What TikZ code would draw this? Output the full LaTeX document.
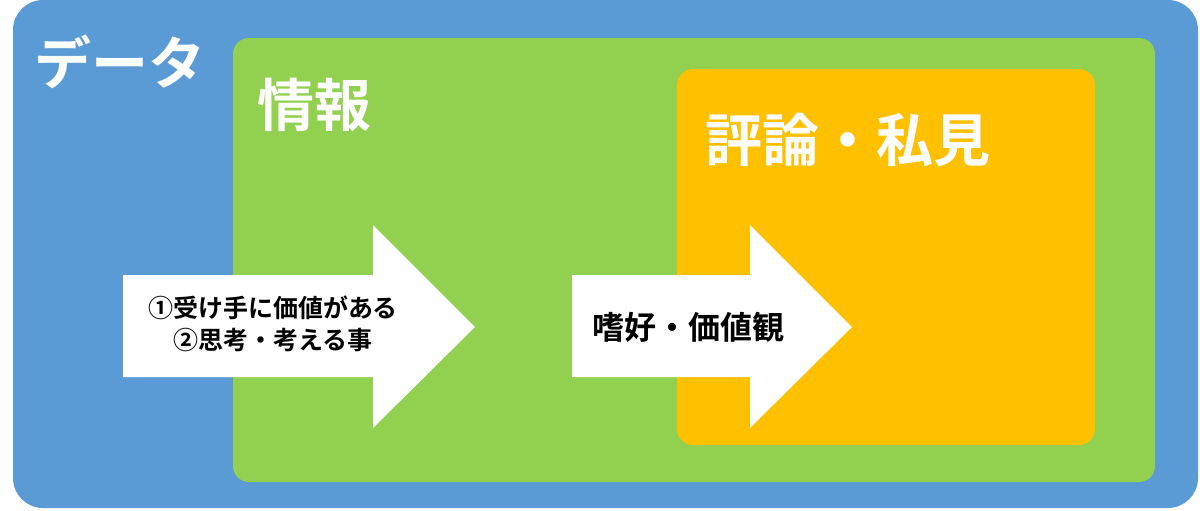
\documentclass[tikz,border=0pt]{standalone}
\usepackage{fontspec}
\newfontfamily\jpfont{Noto Sans CJK JP}[BoldFont={Noto Sans CJK JP Bold}]
\usetikzlibrary{positioning}
\definecolor{dataBlue}{HTML}{5B9BD5}
\definecolor{infoGreen}{HTML}{92D050}
\definecolor{opinionOrange}{HTML}{FFC000}
\begin{document}
\begin{tikzpicture}[x=0.5pt,y=-0.5pt]
	\tikzstyle{title}=[inner sep=0pt,text=white,font=\jpfont\bfseries\fontsize{28.5}{32}\selectfont]
	\tikzstyle{arrowtext}=[inner sep=0pt,text=black,align=center]
	\useasboundingbox (0,0) rectangle (1200,510);
	% nested areas
	\fill[dataBlue,rounded corners=15pt] (13,0) rectangle (1198,508);
	\fill[infoGreen,rounded corners=8pt] (233,38) rectangle (1155,482);
	\fill[opinionOrange,rounded corners=8pt] (677,69) rectangle (1095,445);
	% arrows
	\fill[white] (123,275) -- (373,275) -- (373,225) -- (475,327) -- (373,428) -- (373,377) -- (123,377) -- cycle;
	\fill[white] (572,275) -- (750,275) -- (750,225) -- (852,327) -- (750,428) -- (750,377) -- (572,377) -- cycle;
	\draw 
	node[title](data)at(120,62){データ}
	node[title](info)at(314,105){情報}
	node[title](opinion)at(848,140){評論・私見}
	node[arrowtext,font=\jpfont\bfseries\fontsize{12.5}{16}\selectfont](cond)at(273,324){①受け手に価値がある\\②思考・考える事}
	node[arrowtext,font=\jpfont\bfseries\fontsize{16}{20}\selectfont](taste)at(688,327){嗜好・価値観};
\end{tikzpicture}
\end{document}
